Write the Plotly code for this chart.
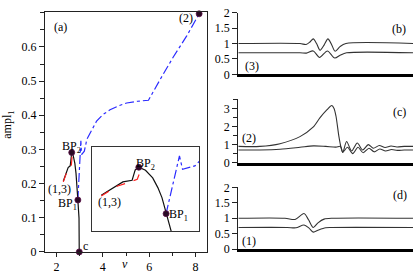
import plotly.graph_objects as go

# ---------------- data: panel (a) ----------------
blue_v = [2.92, 2.97, 3.02, 3.05, 3.08, 3.2, 3.31, 3.5, 3.73, 4.0, 4.31, 4.7, 5.03, 5.5, 5.97, 6.47, 7.03, 7.63, 8.16]
blue_a = [0.152, 0.22, 0.29, 0.325, 0.285, 0.295, 0.33, 0.355, 0.383, 0.402, 0.416, 0.428, 0.436, 0.441, 0.444, 0.504, 0.569, 0.633, 0.697]

black_v = [2.29, 2.4, 2.5, 2.59, 2.62, 2.655, 2.72, 2.79, 2.84, 2.88, 2.92, 2.97, 2.98, 2.98]
black_a = [0.207, 0.227, 0.247, 0.252, 0.283, 0.291, 0.282, 0.259, 0.23, 0.2, 0.152, 0.099, 0.05, 0.0]

red_v = [2.29, 2.45, 2.55, 2.64, 2.665, 2.655]
red_a = [0.205, 0.235, 0.245, 0.255, 0.275, 0.291]

pts_v = [2.98, 2.92, 2.655, 8.16]
pts_a = [0.0, 0.152, 0.291, 0.697]
pts_names = ["c", "BP1", "BP2", "(2)"]

main_yticks = [0, 0.1, 0.2, 0.3, 0.4, 0.5, 0.6]
main_xticks = [2, 4, 6, 8]

# ---------------- data: profiles (b), (c), (d) ----------------
b_x1 = [0, 35.3, 38.8, 41.0, 42.9, 44.8, 46.8, 49.1, 51.3, 53.3, 55.4, 58.2, 61.6, 100]
b_u1 = [1.0, 1.0, 0.97, 1.05, 1.15, 1.0, 0.78, 0.95, 1.15, 0.98, 0.75, 0.9, 1.0, 1.0]
b_x2 = [0, 35.3, 39.0, 42.9, 46.5, 51.0, 55.2, 58.5, 62.0, 100]
b_u2 = [0.7, 0.7, 0.69, 0.76, 0.55, 0.76, 0.53, 0.63, 0.7, 0.7]

c_x1 = [0, 12.4, 23.9, 35.3, 42.8, 46.8, 50.8, 53.5, 54.8, 55.9, 57.6, 58.8, 59.8, 62.0, 64.9,
        68.1, 71.2, 74.4, 77.3, 80.7, 84.0, 87.4, 90.8, 95, 100]
c_u1 = [0.9, 0.9, 1.05, 1.44, 1.96, 2.49, 2.93, 3.16, 3.0, 2.58, 1.44, 0.84, 0.56, 1.17, 0.65,
        1.09, 0.7, 1.0, 0.8, 0.95, 0.84, 0.92, 0.87, 0.9, 0.9]
c_x2 = [0, 12.4, 23.9, 35.3, 43.0, 50.0, 55.9, 58.5, 59.8, 62.5, 65.5, 68.5, 71.5, 74.8,
        77.8, 81.0, 84.3, 87.7, 91.0, 95, 100]
c_u2 = [0.7, 0.7, 0.74, 0.85, 0.93, 0.9, 0.86, 0.9, 0.58, 0.85, 0.5, 0.85, 0.55, 0.8,
        0.6, 0.76, 0.65, 0.73, 0.68, 0.7, 0.7]

d_x1 = [0, 26.7, 32.5, 37.6, 40.2, 42.9, 45.6, 49.1, 54.2, 100]
d_u1 = [1.0, 1.0, 0.96, 1.15, 0.95, 0.70, 0.85, 0.97, 1.0, 1.0]
d_x2 = [0, 28.0, 33.0, 37.6, 40.5, 42.9, 46.0, 50.0, 53.0, 100]
d_u2 = [0.7, 0.7, 0.69, 0.78, 0.68, 0.55, 0.62, 0.69, 0.7, 0.7]

W, H = 415, 276
def px(x):
    return x / W
def py(y):
    return 1 - y / H

FONT = "'Liberation Serif', 'Times New Roman', Times, serif"
LINE = "#222222"
MK = "#2a0a24"
TXT = "#000000"

fig = go.Figure()

# main panel (a) and its inset
for ax in [("x", "y"), ("x2", "y2")]:
    fig.add_trace(go.Scatter(x=blue_v, y=blue_a, mode="lines", xaxis=ax[0], yaxis=ax[1],
                             line=dict(color="#2b2bff", width=1.2, dash="dashdot"), showlegend=False))
    fig.add_trace(go.Scatter(x=black_v, y=black_a, mode="lines", xaxis=ax[0], yaxis=ax[1],
                             line=dict(color="#111111", width=1.2), showlegend=False))
    fig.add_trace(go.Scatter(x=red_v, y=red_a, mode="lines", xaxis=ax[0], yaxis=ax[1],
                             line=dict(color="#ff2020", width=1.2, dash="dash"), showlegend=False))
    fig.add_trace(go.Scatter(x=pts_v, y=pts_a, mode="markers", xaxis=ax[0], yaxis=ax[1],
                             cliponaxis=(ax[0] == "x2"),
                             marker=dict(color=MK, size=6, line=dict(color="#5a1048", width=0.8)),
                             showlegend=False))

# profile panels
prof = [("x3", "y3", b_x1, b_u1, b_x2, b_u2),
        ("x4", "y4", c_x1, c_u1, c_x2, c_u2),
        ("x5", "y5", d_x1, d_u1, d_x2, d_u2)]
for xa, ya, x1, u1, x2, u2 in prof:
    fig.add_trace(go.Scatter(x=x1, y=u1, mode="lines", xaxis=xa, yaxis=ya, line_shape="spline",
                             line=dict(color="#333333", width=1.1, smoothing=0.8), showlegend=False))
    fig.add_trace(go.Scatter(x=x2, y=u2, mode="lines", xaxis=xa, yaxis=ya, line_shape="spline",
                             line=dict(color="#333333", width=1.1, smoothing=0.8), showlegend=False))

tickfont = dict(family=FONT, size=12, color=TXT)

layout = dict(
    width=W, height=H, margin=dict(l=0, r=0, t=0, b=0),
    paper_bgcolor="white", plot_bgcolor="white",
    font=dict(family=FONT, size=12, color=TXT),
    xaxis=dict(domain=[px(45), px(207)], range=[1.5, 8.5], tickvals=main_xticks,
               ticks="outside", ticklen=4, tickcolor=LINE, showline=True, linecolor=LINE, linewidth=1.2,
               mirror=True, showgrid=False, zeroline=False, tickfont=tickfont,
               minor=dict(dtick=1, ticklen=3, tickcolor=LINE, ticks="outside", showgrid=False),
               anchor="y"),
    yaxis=dict(domain=[py(258), py(5)], range=[0, 0.703], tickvals=main_yticks,
               ticks="outside", ticklen=5, tickcolor=LINE, showline=True, linecolor=LINE, linewidth=1.2,
               mirror=True, showgrid=False, zeroline=False, tickfont=tickfont,
               minor=dict(dtick=0.05, ticklen=4, tickcolor=LINE, ticks="outside", showgrid=False),
               anchor="x"),
    xaxis2=dict(domain=[px(92), px(199)], range=[2.2, 3.24], showticklabels=False, ticks="",
                showline=True, linecolor="#333", linewidth=1.3, mirror=True, showgrid=False,
                zeroline=False, anchor="y2"),
    yaxis2=dict(domain=[py(236), py(147)], range=[0.10, 0.353], showticklabels=False, ticks="",
                showline=True, linecolor="#333", linewidth=1.3, mirror=True, showgrid=False,
                zeroline=False, anchor="x2"),
)

pdoms = [(6, 71, [0, 2], 0.5, None), (97.3, 164, [0, 3.5], 1, 0.5), (190, 255, [0, 2], 0.5, None)]
for i, (top, bot, rng, dt, mdt) in enumerate(pdoms):
    n = i + 3
    layout[f"xaxis{n}"] = dict(domain=[px(238.3), px(413)], range=[0, 100], showticklabels=False,
                               ticks="", showline=True, linecolor="#000", linewidth=3,
                               showgrid=False, zeroline=False, anchor=f"y{n}")
    yd = dict(domain=[py(bot), py(top)], range=rng, dtick=dt, ticks="outside", ticklen=5,
              tickcolor=LINE, showline=True, linecolor=LINE, linewidth=1.1, showgrid=False,
              zeroline=False, tickfont=tickfont, anchor=f"x{n}")
    if mdt:
        yd["minor"] = dict(dtick=mdt, ticklen=4, tickcolor=LINE, ticks="outside", showgrid=False)
    layout[f"yaxis{n}"] = yd

fig.update_layout(**layout)

def ann(text, x, y, size=12, **kw):
    fig.add_annotation(text=text, x=px(x), y=py(y), xref="paper", yref="paper", showarrow=False,
                       font=dict(family=FONT, size=size, color=TXT), xanchor="center",
                       yanchor="middle", **kw)

ann("(a)", 60.5, 20.7)
ann("(2)", 186, 11.7)
ann("BP<sub>2</sub>", 71, 147)
ann("(1,3)", 59.7, 191.7)
ann("BP<sub>1</sub>", 67.5, 208)
ann("c", 85, 251.5)
ann("BP<sub>2</sub>", 145, 165)
ann("(1,3)", 109, 205)
ann("BP<sub>1</sub>", 178.3, 219)
ann("(b)", 399, 22.7)
ann("(3)", 251.7, 61.7)
ann("(c)", 399.5, 111)
ann("(2)", 248.8, 138.3)
ann("(d)", 400, 197.7)
ann("(1)", 249, 246)
ann("ampl<sub>1</sub>", 8, 124, textangle=-90)
ann("<i>v</i>", 125, 271)

fig.write_html("out.html", config={"displayModeBar": False})
with open("out.html", "r", encoding="utf-8") as f:
    html = f.read()
html = html.replace("<head>", "<head><style>html,body{margin:0;padding:0;overflow:hidden;}</style>", 1)
with open("out.html", "w", encoding="utf-8") as f:
    f.write(html)
